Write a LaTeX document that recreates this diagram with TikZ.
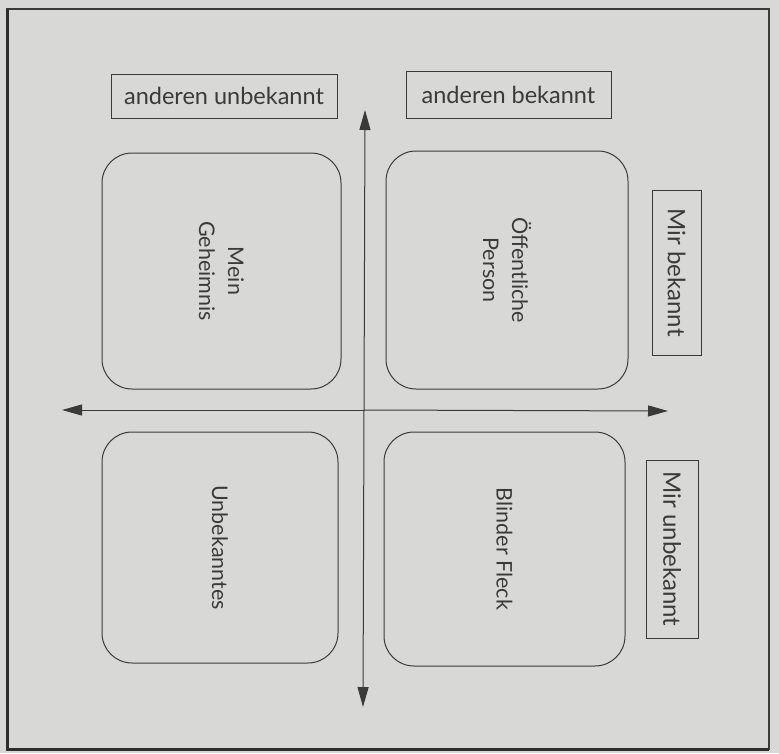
\documentclass[tikz,border=0pt]{standalone}
\usepackage{fontspec}
\setmainfont{Lato}
\usetikzlibrary{arrows.meta}
\definecolor{paper}{HTML}{D8D8D6}
\definecolor{ink}{HTML}{3A3A3A}
\tikzset{
  labelbox/.style={draw=ink, line width=1pt, text=ink, rotate=-90, inner sep=0pt,
    font=\fontsize{24}{28}\selectfont},
  hlabelbox/.style={draw=ink, line width=1pt, text=ink, inner sep=0pt,
    font=\fontsize{23.5}{28}\selectfont},
  quad/.style={draw=ink, line width=1pt, rounded corners=30pt, text=ink, rotate=-90,
    align=center, inner sep=0pt, font=\fontsize{21.5}{29}\selectfont},
  axis/.style={draw=ink, line width=1pt, -{Triangle[length=20pt,width=11pt]}},
}
\begin{document}
\begin{tikzpicture}[x=1pt,y=-1pt]
\useasboundingbox (0,0) rectangle (779,753);
\fill[paper] (0,0) rectangle (779,753);
% frame
\draw[ink, line width=1.2pt] (7,9) rectangle (769,749);
\draw[ink!80!black, line width=3pt] (7,9) -- (7,749) -- (769,749);
% column headers
\node[hlabelbox, minimum width=226, minimum height=44] (hu) at (224,96) {anderen unbekannt};
\node[hlabelbox, minimum width=205, minimum height=47] (hb) at (508.5,94.5) {anderen bekannt};
% row headers
\node[labelbox, minimum width=165, minimum height=49] (rb) at (676.5,272.5) {Mir bekannt};
\node[labelbox, minimum width=178, minimum height=52] (ru) at (672,549) {Mir unbekannt};
% quadrants
\node[quad, minimum width=236, minimum height=239] (tl) at (221.5,271) {Mein\\Geheimnis};
\node[quad, minimum width=238, minimum height=242] (tr) at (507,270) {Öffentliche\\Person};
\node[quad, minimum width=231, minimum height=236] (bl) at (220,547.5) {Unbekanntes};
\node[quad, minimum width=234, minimum height=241] (br) at (504.5,549) {Blinder Fleck};
% axes
\coordinate (ctr) at (364,410);
\coordinate (vtop) at (365,110);
\coordinate (vbot) at (363,707);
\coordinate (hl) at (62,410);
\coordinate (hr) at (668,411);
\draw[axis] (ctr) -- (vtop);
\draw[axis] (ctr) -- (vbot);
\draw[axis] (ctr) -- (hl);
\draw[axis] (ctr) -- (hr);
\end{tikzpicture}
\end{document}
